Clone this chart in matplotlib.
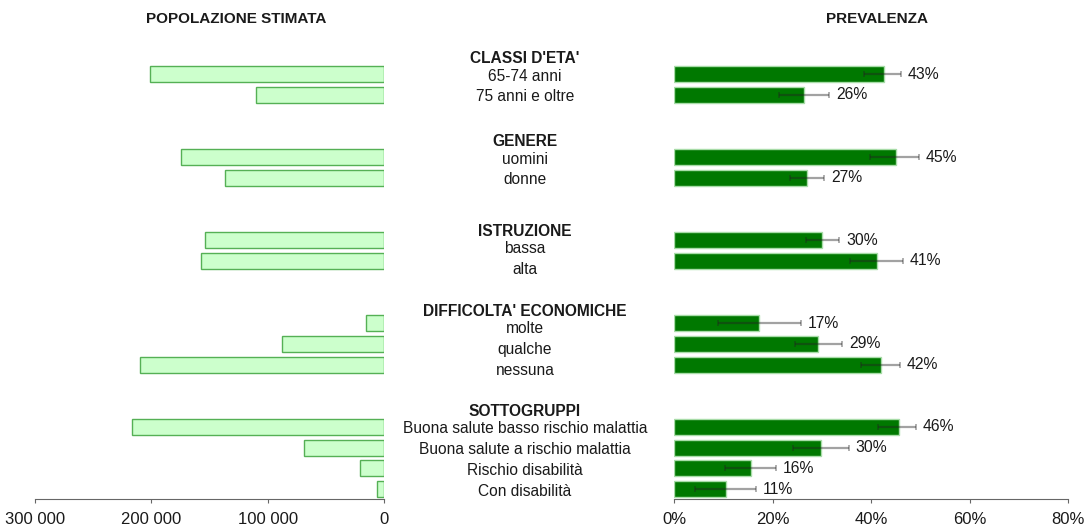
import matplotlib
matplotlib.use('Agg')
import matplotlib.pyplot as plt
from matplotlib.transforms import blended_transform_factory

plt.rcParams['font.family'] = ['Liberation Sans', 'DejaVu Sans']

# gruppi e categorie
gruppi = ["CLASSI D'ETA'", 'GENERE', 'ISTRUZIONE', "DIFFICOLTA' ECONOMICHE", 'SOTTOGRUPPI']
categorie = [
    ['65-74 anni', '75 anni e oltre'],
    ['uomini', 'donne'],
    ['bassa', 'alta'],
    ['molte', 'qualche', 'nessuna'],
    ['Buona salute basso rischio malattia', 'Buona salute a rischio malattia',
     'Rischio disabilità', 'Con disabilità'],
]

# popolazione stimata
popolazione = [
    [201000, 110000],
    [174500, 136700],
    [154000, 157300],
    [15500, 87700, 209700],
    [216600, 68800, 20600, 6000],
]

# prevalenza (%) e intervalli di confidenza
prevalenza = [
    [42.6, 26.4],
    [45.0, 27.0],
    [30.0, 41.2],
    [17.3, 29.2, 42.0],
    [45.6, 29.8, 15.6, 10.6],
]
ic_inf = [
    [38.6, 21.3],
    [39.8, 23.6],
    [26.8, 35.7],
    [8.9, 24.6, 38.0],
    [41.4, 24.2, 10.4, 4.3],
]
ic_sup = [
    [46.1, 31.5],
    [49.7, 30.5],
    [33.5, 46.5],
    [25.8, 34.1, 45.9],
    [49.1, 35.5, 20.7, 16.6],
]

# spostamento verticale delle etichette rispetto alle barre (come nell'originale)
spost_testo = [0.1, 0.1, 0.43, 0.27, 0.1]

# posizioni delle righe: 3 righe di stacco fra un gruppo e l'altro
righe = []
pos = 0
for cats in categorie:
    righe.append(list(range(pos, pos + len(cats))))
    pos += len(cats) + 2

fig = plt.figure(figsize=(10.84, 5.27), dpi=100)
ax_pop = fig.add_axes([35 / 1084, 28 / 527, 349 / 1084, 459 / 527])
ax_prev = fig.add_axes([674 / 1084, 28 / 527, 394 / 1084, 459 / 527])

ylim = (20.48, -1.64)
h = 0.77

for i in range(len(gruppi)):
    ax_pop.barh(righe[i], popolazione[i], height=h, color='#ccffcc',
                edgecolor='#55b055', linewidth=1.0)
    ax_prev.barh(righe[i], prevalenza[i], height=h, color='#007800',
                 edgecolor='#a8dca8', linewidth=1.0)
    err_low = [p - l for p, l in zip(prevalenza[i], ic_inf[i])]
    err_up = [u - p for p, u in zip(prevalenza[i], ic_sup[i])]
    ax_prev.errorbar(prevalenza[i], righe[i], xerr=[err_low, err_up], fmt='none',
                     ecolor='#222222', alpha=0.42, elinewidth=1.6, capsize=2.5,
                     capthick=1.2)
    for y, p, u in zip(righe[i], prevalenza[i], ic_sup[i]):
        ax_prev.annotate(f'{p:.0f}%', (u, y), xytext=(5, 0), textcoords='offset points',
                         va='center', ha='left', fontsize=11.3, color='#1a1a1a')

ax_pop.set_xlim(300000, 0)
ax_prev.set_xlim(0, 80)
for ax in (ax_pop, ax_prev):
    ax.set_ylim(*ylim)
    ax.set_yticks([])
    for s in ('top', 'right', 'left'):
        ax.spines[s].set_visible(False)
    ax.spines['bottom'].set_color('#666666')
    ax.tick_params(axis='x', colors='#666666', length=3, pad=6.5,
                   labelsize=12, labelcolor='#1a1a1a')

ax_pop.set_xticks([300000, 200000, 100000, 0])
ax_pop.set_xticklabels(['300 000', '200 000', '100 000', '0'])
ax_prev.set_xticks([0, 20, 40, 60, 80])
ax_prev.set_xticklabels(['0%', '20%', '40%', '60%', '80%'])

# etichette centrali
trans = blended_transform_factory(fig.transFigure, ax_pop.transData)
xc = 525 / 1084
for i, g in enumerate(gruppi):
    off = spost_testo[i]
    fig.text(xc, righe[i][0] - 1 + off + 0.15, g, transform=trans, ha='center',
             va='center', fontsize=11.2, fontweight='bold', color='#1a1a1a')
    for y, c in zip(righe[i], categorie[i]):
        fig.text(xc, y + off, c, transform=trans, ha='center', va='center',
                 fontsize=11.2, color='#1a1a1a')

fig.text(236 / 1084, 1 - 19 / 527, 'POPOLAZIONE STIMATA', ha='center', va='center',
         fontsize=11, fontweight='bold', color='#1a1a1a')
fig.text(877 / 1084, 1 - 19 / 527, 'PREVALENZA', ha='center', va='center',
         fontsize=11, fontweight='bold', color='#1a1a1a')

fig.savefig('out.png', dpi=100)
